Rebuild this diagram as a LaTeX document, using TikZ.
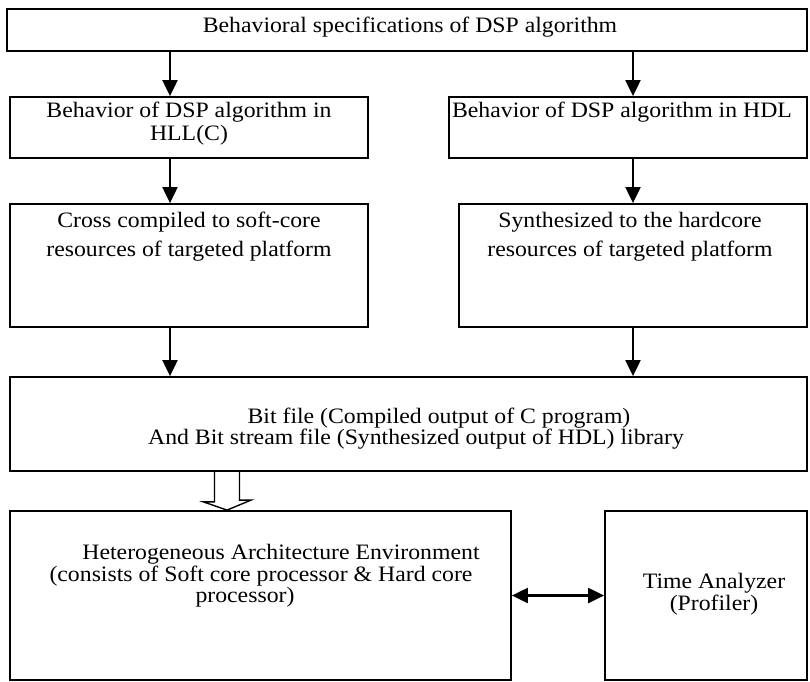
\documentclass[tikz,border=0pt]{standalone}
\usepackage{fontspec}
\setmainfont{Liberation Serif}[FakeStretch=1.08]
\usepackage{tikz}
\usetikzlibrary{calc}
\usetikzlibrary{arrows.meta,positioning}

\begin{document}
\begin{tikzpicture}[x=1pt,y=-1pt,
	blk/.style={draw,line width=1.8pt,inner sep=0pt},
	txt/.style={anchor=base,align=center,inner sep=0pt,font=\fontsize{22}{#1}\selectfont},
	txt/.default=23,
	arr/.style={-{Triangle[length=16pt,width=15pt]},line width=2pt},
	arrb/.style={{Triangle[length=16pt,width=15pt]}-{Triangle[length=16pt,width=15pt]},line width=2.2pt}]
	\useasboundingbox (0,0) rectangle (810,681);
	\node[blk,minimum width=800pt,minimum height=42pt] (spec) at (407,30) {};
	\node[blk,minimum width=358pt,minimum height=61pt] (hll) at (189,127.5) {};
	\node[blk,minimum width=358pt,minimum height=61pt] (hdl) at (628,127.5) {};
	\node[blk,minimum width=358pt,minimum height=123pt] (soft) at (189,265.5) {};
	\node[blk,minimum width=348pt,minimum height=123pt] (hard) at (633,265.5) {};
	\node[blk,minimum width=797pt,minimum height=94pt] (lib) at (408.5,424) {};
	\node[blk,minimum width=501pt,minimum height=169pt] (het) at (260.5,595.5) {};
	\node[blk,minimum width=202pt,minimum height=169pt] (time) at (706,595.5) {};
	\node[txt] (spect) at (410,32) {Behavioral specifications of DSP algorithm};
	\node[txt] (hllt) at (189,140) {Behavior of DSP algorithm in\\HLL(C)};
	\node[txt] (hdlt) at (622,117) {Behavior of DSP algorithm in HDL};
	\node[txt=29] (softt) at (189,256) {Cross compiled to soft-core\\resources of targeted platform};
	\node[txt=29] (hardt) at (630,256) {Synthesized to the hardcore\\resources of targeted platform};
	\node[txt=21] (libt) at (416,444) {\hspace*{46pt}Bit file (Compiled output of C program)\\And Bit stream file (Synthesized output of HDL) library};
	\node[txt=19] (hett) at (261,602) {\hspace*{40pt}Heterogeneous Architecture Environment\\(consists of Soft core processor \& Hard core\\processor)\hspace*{32pt}};
	\node[txt=20] (timet) at (714,610) {Time Analyzer\\(Profiler)};
	\coordinate (cl) at (170,0);
	\coordinate (cr) at (633,0);
	\coordinate (ch) at (227,0);
	\draw[arr] (cl |- spec.south) -- (cl |- hll.north);
	\draw[arr] (cr |- spec.south) -- (cr |- hdl.north);
	\draw[arr] (cl |- hll.south) -- (cl |- soft.north);
	\draw[arr] (cr |- hdl.south) -- (cr |- hard.north);
	\draw[arr] (cl |- soft.south) -- (cl |- lib.north);
	\draw[arr] (cr |- hard.south) -- (cr |- lib.north);
	\draw[line width=1.4pt] ($(ch |- lib.south)+(-12.5,0)$) -- ++(0,30) -- ++(-11,0)
		-- (ch |- het.north) -- ++(24,-10) -- ++(-11.5,0) -- ++(0,-30);
	\draw[arrb] (het.east) -- (time.west);
\end{tikzpicture}
\end{document}
